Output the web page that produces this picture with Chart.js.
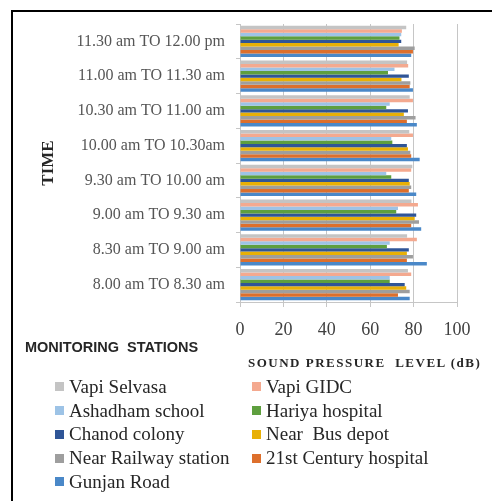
<!DOCTYPE html>
<html>
<head>
<meta charset="utf-8">
<script src="https://cdn.jsdelivr.net/npm/chart.js@4/dist/chart.umd.min.js"></script>
<style>
  body { margin: 0; background: #fff; }
  #wrap { position: relative; width: 492px; height: 501px; overflow: hidden; }
  #frame { position: absolute; left: 11px; top: 10px; width: 520px; height: 540px;
           border-left: 2px solid #000; border-top: 2px solid #000; }
  #chart { position: absolute; left: 0; top: 0; }
  .txt { position: absolute; white-space: nowrap; color: #262626; }
  #stations { left: 25px; top: 339px; font: bold 14.5px "Liberation Sans", Arial, sans-serif; }
  #xtitle { left: 248px; top: 355px; font: bold 13px "Liberation Serif", serif; letter-spacing: 1.5px; }
  #legend { position: absolute; left: 55px; top: 375px; display: grid;
            grid-template-columns: 197px auto; }
  .item { display: flex; align-items: center; height: 23.75px; white-space: nowrap;
          font: 19px "Liberation Serif", serif; color: #262626; }
  .box { width: 9px; height: 9px; margin-right: 5px; flex: none; }
</style>
</head>
<body>
<div id="wrap">
  <div id="frame"></div>
  <canvas id="chart" width="492" height="501"></canvas>
  <div class="txt" id="stations">MONITORING&nbsp; STATIONS</div>
  <div class="txt" id="xtitle">SOUND PRESSURE&nbsp; LEVEL (dB)</div>
  <div id="legend"></div>
</div>
<script>
// time slots, bottom to top as in the picture
const timeSlots = ['8.00 am TO 8.30 am', '8.30 am TO 9.00 am', '9.00 am TO 9.30 am',
  '9.30 am TO 10.00 am', '10.00 am TO 10.30am', '10.30 am TO 11.00 am',
  '11.00 am TO 11.30 am', '11.30 am TO 12.00 pm'];

const stations = ['Vapi Selvasa', 'Vapi GIDC', 'Ashadham school', 'Hariya hospital',
  'Chanod colony', 'Near  Bus depot', 'Near Railway station', '21st Century hospital', 'Gunjan Road'];

const stationColors = ['#C4C4C4', '#F4A98F', '#9DC3E6', '#5E9F3E', '#2F5597',
  '#E8B007', '#9E9E9E', '#DD6F2C', '#4A88C8'];

// dB per time slot
const vapiSelvasa   = [77.4, 77.0, 79.0, 79.4, 78.0, 78.2, 77.0, 76.6];
const vapiGidc      = [78.9, 81.5, 82.0, 78.9, 79.7, 79.7, 77.5, 74.6];
const ashadham      = [69.0, 69.0, 72.8, 67.4, 69.7, 69.0, 71.2, 74.3];
const hariya        = [69.0, 67.7, 72.0, 69.7, 70.2, 67.4, 68.2, 73.5];
const chanod        = [75.9, 77.8, 81.2, 77.8, 76.9, 77.4, 77.8, 74.3];
const busDepot      = [76.6, 76.9, 80.5, 78.2, 77.4, 75.5, 74.4, 73.1];
const railway       = [78.2, 79.7, 82.5, 78.9, 78.5, 80.9, 78.5, 80.5];
const century21     = [72.8, 76.9, 78.9, 77.8, 78.9, 76.9, 78.2, 79.7];
const gunjanRoad    = [78.2, 86.1, 83.5, 81.2, 82.8, 81.5, 79.7, 78.9];

const xTicks = [0, 20, 40, 60, 80, 100];

const seriesData = [vapiSelvasa, vapiGidc, ashadham, hariya, chanod, busDepot, railway, century21, gunjanRoad];

const datasets = stations.map((name, i) => ({
  label: name,
  data: seriesData[i],
  backgroundColor: stationColors[i],
  borderWidth: 0,
  barPercentage: 1,
  categoryPercentage: 0.9
}));

const gridGray = '#C6C6C6';

const chart = new Chart(document.getElementById('chart'), {
  type: 'bar',
  data: { labels: timeSlots, datasets },
  options: {
    indexAxis: 'y',
    responsive: false,
    animation: false,
    layout: { padding: { left: 38, top: 24, right: 35, bottom: 0 } },
    plugins: { legend: { display: false }, tooltip: { enabled: false } },
    scales: {
      x: {
        min: 0, max: 100,
        afterBuildTicks: s => { s.ticks = xTicks.map(v => ({ value: v })); },
        afterFit: s => { s.height = 199; },
        grid: { color: gridGray, tickLength: 5 },
        border: { color: gridGray },
        ticks: { padding: 12, color: '#404040', font: { family: 'Liberation Serif', size: 18 } }
      },
      y: {
        reverse: true,
        afterFit: s => { s.width = 240 - 38; },
        grid: { drawOnChartArea: false, color: gridGray, tickLength: 4 },
        border: { color: gridGray },
        ticks: { padding: 11, color: '#555', font: { family: 'Liberation Serif', size: 16 } },
        title: {
          display: true, text: 'TIME', color: '#262626', padding: 0,
          font: { family: 'Liberation Serif', size: 17, weight: 'bold' }
        }
      }
    }
  }
});

const legend = document.getElementById('legend');
chart.data.datasets.forEach(ds => {
  const item = document.createElement('div');
  item.className = 'item';
  item.innerHTML = `<span class="box" style="background:${ds.backgroundColor}"></span>${ds.label.replace(/  /g, ' &nbsp;')}`;
  legend.appendChild(item);
});
</script>
</body>
</html>
